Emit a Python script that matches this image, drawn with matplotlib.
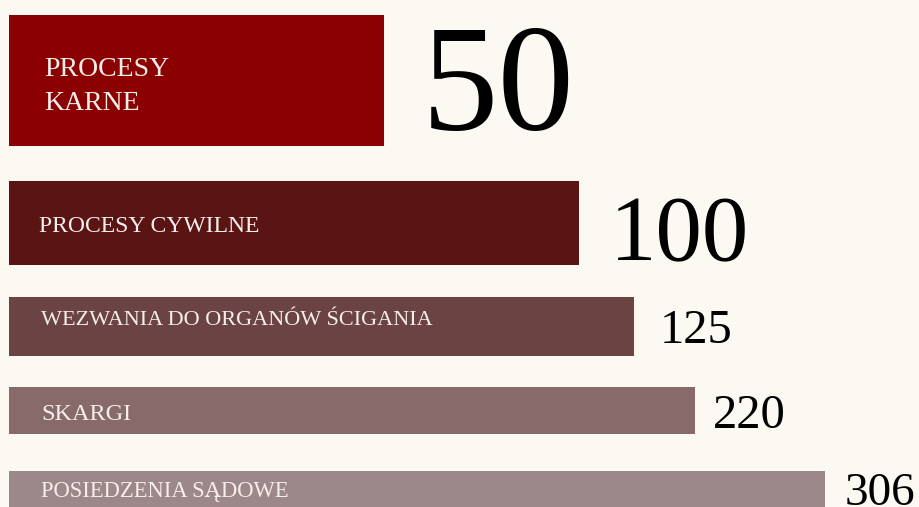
import matplotlib.pyplot as plt

# dane
labels = ["PROCESY\nKARNE", "PROCESY CYWILNE", "WEZWANIA DO ORGANÓW ŚCIGANIA",
          "SKARGI", "POSIEDZENIA SĄDOWE"]
values = [50, 100, 125, 220, 306]
bar_len = [375, 570, 625, 686, 816]   # długości słupków
colors = ["#8b0000", "#5a1414", "#6b4343", "#886a6b", "#9c8888"]

# układ (piksele)
bg = "#fcf9f3"
bar_top = [15, 181, 297, 387, 471]
bar_h = [131, 84, 59, 47, 47]
num_size = [110, 67, 35, 35, 34]
num_gap = [38, 31, 26, 18, 20]
num_base = [130, 260, 343, 428, 505]
lab_size = [20, 17, 16, 17.5, 16.3]
lab_x = [44, 39, 41, 41, 41]
lab_base = [[76, 110], [232], [325], [420], [497]]

fig = plt.figure(figsize=(9.2, 5.07), dpi=100, facecolor=bg)
ax = fig.add_axes([0, 0, 1, 1])
ax.set_facecolor(bg)
ax.set_xlim(-9, 911)
ax.set_ylim(507, 0)
ax.axis('off')

centers = [t + h / 2 for t, h in zip(bar_top, bar_h)]
ax.barh(centers, bar_len, height=bar_h, color=colors, left=0)

for i in range(len(values)):
    for line, yb in zip(labels[i].split("\n"), lab_base[i]):
        ax.text(lab_x[i] - 9, yb, line, color="#f6eeea", fontsize=lab_size[i],
                family="Liberation Serif", va="baseline", ha="left")
    ax.text(bar_len[i] + num_gap[i], num_base[i], str(values[i]), color="black",
            fontsize=num_size[i], family="Liberation Serif", va="baseline", ha="left")

fig.savefig("out.png", dpi=100, facecolor=bg)
